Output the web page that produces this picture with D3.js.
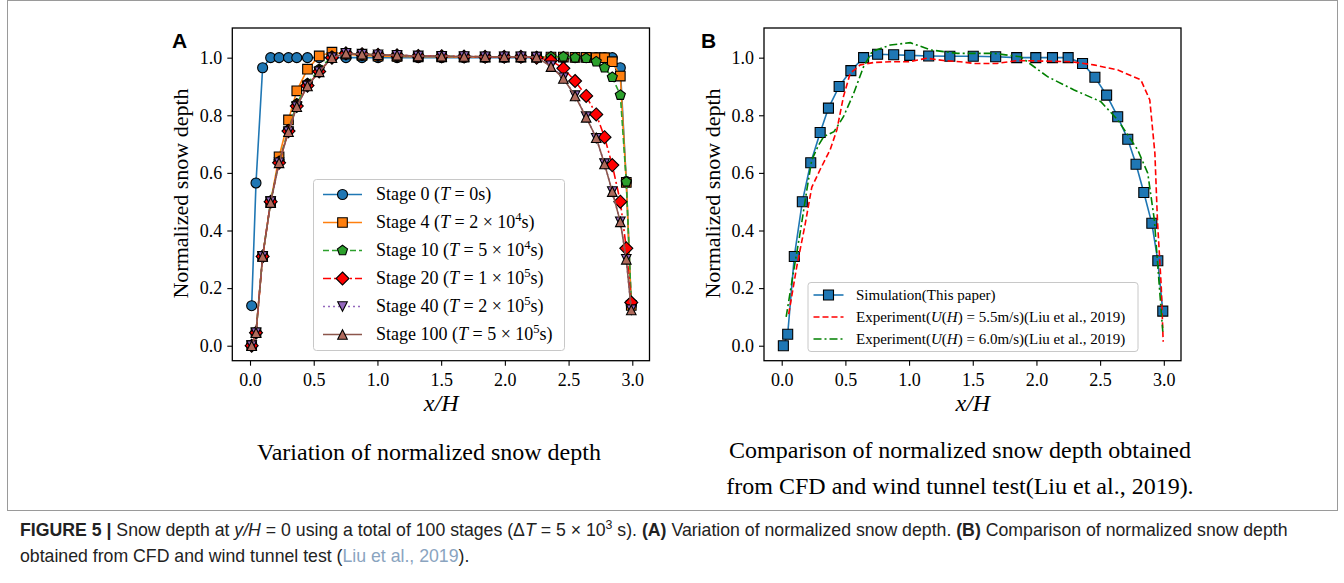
<!DOCTYPE html>
<html><head><meta charset="utf-8"><title>Figure 5 - Normalized snow depth</title>
<style>
    body {
        margin: 0;
        background-color: #ffffff;
    }
    svg text {
        font-family: 'Liberation Serif', 'Times New Roman', serif;
    }
    .caption text {
        font-family: 'Liberation Sans Narrow', 'Liberation Sans', Arial, sans-serif;
    }
</style>
<script src="https://cdnjs.cloudflare.com/ajax/libs/d3/7.8.5/d3.min.js"></script>
</head>
<body>
<div id="figure"></div>

<script>
// x/H positions of the sampled points (same grid in both panels)
const xGrid = [0.013, 0.047, 0.099, 0.162, 0.228, 0.302, 0.367, 0.451, 0.543, 0.643,
    0.753, 0.879, 1.005, 1.154, 1.320, 1.504, 1.680, 1.845, 1.995, 2.126,
    2.249, 2.362, 2.459, 2.551, 2.638, 2.717, 2.782, 2.843, 2.906, 2.953, 2.992];

// Panel A series
const stage0 = [0.139, 0.565, 0.965, 1.0, 1.0, 1.0, 1.0, 1.0, 1.0, 1.0,
    1.0, 1.0, 1.0, 1.0, 1.0, 1.0, 1.0, 1.0, 1.0, 1.0,
    1.0, 1.0, 1.0, 1.0, 1.0, 1.0, 1.0, 1.0, 0.965, 0.57, 0.14];
const stage4 = [0.0, 0.045, 0.31, 0.50, 0.656, 0.784, 0.885, 0.96, 1.006, 1.019,
    1.012, 1.008, 1.005, 1.004, 1.003, 1.003, 1.002, 1.002, 1.002, 1.002,
    1.002, 1.002, 1.002, 1.001, 1.001, 1.0, 1.0, 0.986, 0.936, 0.567, 0.14];
const stage10 = [0.0, 0.045, 0.31, 0.50, 0.64, 0.75, 0.84, 0.91, 0.96, 1.005,
    1.015, 1.012, 1.01, 1.008, 1.006, 1.005, 1.004, 1.003, 1.003, 1.003,
    1.003, 1.003, 1.003, 1.0, 0.998, 0.986, 0.965, 0.932, 0.870, 0.569, 0.15];
const stage20 = [0.0, 0.045, 0.31, 0.50, 0.635, 0.745, 0.832, 0.903, 0.952, 1.0,
    1.015, 1.012, 1.01, 1.008, 1.006, 1.005, 1.004, 1.003, 1.003, 1.003,
    1.0, 0.99, 0.963, 0.919, 0.867, 0.803, 0.724, 0.627, 0.50, 0.338, 0.15];
const stage40 = [0.0, 0.045, 0.31, 0.50, 0.635, 0.743, 0.83, 0.902, 0.951, 1.0,
    1.015, 1.012, 1.01, 1.008, 1.006, 1.005, 1.004, 1.003, 1.003, 1.003,
    1.002, 0.972, 0.93, 0.868, 0.795, 0.72, 0.632, 0.535, 0.43, 0.30, 0.125];
const stage100 = [0.0, 0.045, 0.31, 0.497, 0.635, 0.743, 0.83, 0.902, 0.951, 1.0,
    1.015, 1.012, 1.01, 1.008, 1.006, 1.005, 1.004, 1.003, 1.003, 1.003,
    1.002, 0.969, 0.928, 0.867, 0.793, 0.722, 0.631, 0.535, 0.43, 0.30, 0.124];

// Panel B series
const simulation = [0.0, 0.04, 0.31, 0.50, 0.635, 0.74, 0.825, 0.90, 0.955, 1.0,
    1.012, 1.01, 1.008, 1.006, 1.005, 1.005, 1.003, 1.0, 1.0, 1.0,
    1.0, 0.98, 0.932, 0.87, 0.795, 0.717, 0.63, 0.532, 0.425, 0.295, 0.12];
const exp55X = [0.055, 0.118, 0.183, 0.236, 0.30, 0.38, 0.433, 0.485, 0.538, 0.617,
    0.72, 0.85, 1.0, 1.14, 1.27, 1.40, 1.51, 1.69, 1.85, 2.27,
    2.45, 2.64, 2.82, 2.89, 2.93, 2.95, 2.98, 2.995];
const exp55Y = [0.11, 0.274, 0.419, 0.55, 0.61, 0.68, 0.749, 0.865, 0.946, 0.975,
    0.983, 0.986, 0.986, 0.998, 0.99, 0.986, 0.98, 0.98, 0.99, 0.986,
    0.975, 0.957, 0.923, 0.853, 0.668, 0.436, 0.205, 0.014];
const exp60X = [0.035, 0.09, 0.144, 0.197, 0.236, 0.29, 0.33, 0.41, 0.485, 0.565,
    0.643, 0.71, 0.853, 1.01, 1.168, 1.378, 1.666, 1.876, 2.087, 2.296,
    2.506, 2.638, 2.795, 2.874, 2.926, 2.965, 2.992];
const exp60Y = [0.10, 0.25, 0.39, 0.54, 0.645, 0.697, 0.726, 0.743, 0.795, 0.876,
    0.969, 1.021, 1.044, 1.052, 1.027, 1.015, 1.015, 1.003, 0.934, 0.888,
    0.847, 0.784, 0.68, 0.599, 0.436, 0.205, 0.049];

// ticks
const xTicks = [0.0, 0.5, 1.0, 1.5, 2.0, 2.5, 3.0];
const yTicks = [0.0, 0.2, 0.4, 0.6, 0.8, 1.0];

const W = 1344, H = 583;
const svg = d3.select("#figure").append("svg")
    .attr("width", W).attr("height", H)
    .attr("viewBox", `0 0 ${W} ${H}`);

// outer frame of the figure
svg.append("rect")
    .attr("x", 7.5).attr("y", 0.5)
    .attr("width", 1330).attr("height", 510)
    .attr("fill", "none").attr("stroke", "#9a9a9a").attr("stroke-width", 1);

// marker shapes (r ~ half width in px)
function markerPath(kind, r) {
    switch (kind) {
        case "circle":
            return d3.symbol(d3.symbolCircle, Math.PI * r * r)();
        case "square":
            return `M${-r},${-r}h${2 * r}v${2 * r}h${-2 * r}Z`;
        case "diamond":
            return `M0,${-r}L${r},0L0,${r}L${-r},0Z`;
        case "pentagon": {
            const pts = d3.range(5).map(k => {
                const a = -Math.PI / 2 + k * 2 * Math.PI / 5;
                return [r * Math.cos(a), r * Math.sin(a)];
            });
            return "M" + pts.join("L") + "Z";
        }
        case "triUp":
            return `M0,${-r}L${r},${r}L${-r},${r}Z`;
        case "triDown":
            return `M0,${r}L${r},${-r}L${-r},${-r}Z`;
    }
}

// rich text: segments with italic / bold / superscript
function richText(sel, parts, fs) {
    const shift = fs * 0.42;
    let raised = false;
    parts.forEach(p => {
        const t = sel.append("tspan").text(p.t);
        if (p.i) t.attr("font-style", "italic");
        if (p.b) t.attr("font-weight", "bold");
        if (p.fill) t.attr("fill", p.fill);
        if (p.sup) {
            t.attr("dy", -shift).attr("font-size", fs * 0.7);
            raised = true;
        } else if (raised) {
            t.attr("dy", shift);
            raised = false;
        }
    });
}

function makePanel(opt) {
    const x = d3.scaleLinear().domain([-0.139, 3.135]).range([opt.left, opt.right]);
    const y = d3.scaleLinear().domain([-0.052, 1.103]).range([360.7, 28]);
    const g = svg.append("g");

    const xAxis = g.append("g")
        .attr("transform", `translate(0,${y.range()[0]})`)
        .call(d3.axisBottom(x).tickValues(xTicks).tickFormat(d3.format(".1f")).tickSizeOuter(0).tickSize(5).tickPadding(4));
    const yAxis = g.append("g")
        .attr("transform", `translate(${x.range()[0]},0)`)
        .call(d3.axisLeft(y).tickValues(yTicks).tickFormat(d3.format(".1f")).tickSizeOuter(0).tickSize(5).tickPadding(5));
    [xAxis, yAxis].forEach(a => {
        a.select(".domain").remove();
        a.selectAll("line").attr("stroke", "#000").attr("stroke-width", 1.1);
        a.selectAll("text").attr("font-size", 18).attr("fill", "#000")
            .style("font-family", "'Liberation Serif', serif");
    });
    xAxis.selectAll("text").attr("dy", "0.9em");

    // frame
    g.append("rect")
        .attr("x", x.range()[0]).attr("y", y.range()[1])
        .attr("width", x.range()[1] - x.range()[0])
        .attr("height", y.range()[0] - y.range()[1])
        .attr("fill", "none").attr("stroke", "#000").attr("stroke-width", 1.3);

    // series
    opt.series.forEach(s => {
        const pts = s.xs.map((xv, i) => [xv, s.ys[i]]);
        g.append("path")
            .datum(pts)
            .attr("fill", "none")
            .attr("stroke", s.color)
            .attr("stroke-width", 1.6)
            .attr("stroke-dasharray", s.dash || null)
            .attr("d", d3.line().x(d => x(d[0])).y(d => y(d[1])));
        if (s.marker) {
            g.append("g").selectAll("path")
                .data(pts).join("path")
                .attr("transform", d => `translate(${x(d[0])},${y(d[1])})`)
                .attr("d", markerPath(s.marker, s.r))
                .attr("fill", s.fill)
                .attr("stroke", "#000")
                .attr("stroke-width", 1.1);
        }
    });

    // legend
    const L = opt.legend;
    g.append("rect")
        .attr("x", L.x).attr("y", L.y).attr("width", L.w).attr("height", L.h)
        .attr("rx", 3).attr("fill", "#fff").attr("fill-opacity", 0.85)
        .attr("stroke", "#c8c8c8").attr("stroke-width", 1);
    opt.series.forEach((s, i) => {
        const ly = L.y0 + i * L.dy;
        g.append("line")
            .attr("x1", L.lx1).attr("x2", L.lx2).attr("y1", ly).attr("y2", ly)
            .attr("stroke", s.color).attr("stroke-width", 1.6)
            .attr("stroke-dasharray", s.dash || null);
        if (s.marker) {
            g.append("path")
                .attr("transform", `translate(${(L.lx1 + L.lx2) / 2},${ly})`)
                .attr("d", markerPath(s.marker, s.r))
                .attr("fill", s.fill).attr("stroke", "#000").attr("stroke-width", 1.1);
        }
        const t = g.append("text")
            .attr("x", L.tx).attr("y", ly + L.fs * 0.33)
            .attr("font-size", L.fs).attr("fill", "#000");
        richText(t, s.label, L.fs);
    });

    // axis labels
    g.append("text")
        .attr("transform", `translate(${opt.ylabX},193.5) rotate(-90)`)
        .attr("text-anchor", "middle").attr("font-size", 22)
        .text("Normalized snow depth");
    g.append("text")
        .attr("x", (x(0) + x(3)) / 2).attr("y", 411)
        .attr("text-anchor", "middle").attr("font-size", 24).attr("font-style", "italic")
        .text("x/H");

    // panel letter
    g.append("text")
        .attr("x", opt.letterX).attr("y", 48)
        .attr("font-size", 21).attr("font-weight", "bold")
        .style("font-family", "'Liberation Sans', Arial, sans-serif")
        .text(opt.letter);

    // sub caption
    opt.sub.forEach((line, i) => {
        g.append("text")
            .attr("x", opt.subX).attr("y", opt.subY + i * 36)
            .attr("text-anchor", "middle").attr("font-size", 24)
            .text(line);
    });
}

const T = (a, b) => [{t: a}, {t: "T", i: true}, {t: b}];

makePanel({
    left: 232.3, right: 649.5, letter: "A", letterX: 172, ylabX: 188,
    subX: 429, subY: 460, sub: ["Variation of normalized snow depth"],
    legend: {x: 313.5, y: 179.5, w: 251, h: 171, y0: 194.5, dy: 28,
        lx1: 323, lx2: 362, tx: 376, fs: 18},
    series: [
        {xs: xGrid, ys: stage0, color: "#1f77b4", fill: "#1f77b4", marker: "circle", r: 5,
            label: [...T("Stage 0 (", " = 0s)")]},
        {xs: xGrid, ys: stage4, color: "#ff7f0e", fill: "#ff7f0e", marker: "square", r: 4.8,
            label: [...T("Stage 4 (", " = 2 × 10"), {t: "4", sup: true}, {t: "s)"}]},
        {xs: xGrid, ys: stage10, color: "#2ca02c", fill: "#2ca02c", marker: "pentagon", r: 5.3, dash: "6,3",
            label: [...T("Stage 10 (", " = 5 × 10"), {t: "4", sup: true}, {t: "s)"}]},
        {xs: xGrid, ys: stage20, color: "#ff0000", fill: "#ff0000", marker: "diamond", r: 6.5, dash: "8,3,2,3",
            label: [...T("Stage 20 (", " = 1 × 10"), {t: "5", sup: true}, {t: "s)"}]},
        {xs: xGrid, ys: stage40, color: "#9467bd", fill: "#9467bd", marker: "triDown", r: 4.8, dash: "2,3",
            label: [...T("Stage 40 (", " = 2 × 10"), {t: "5", sup: true}, {t: "s)"}]},
        {xs: xGrid, ys: stage100, color: "#8c564b", fill: "#b06a5c", marker: "triUp", r: 4.8,
            label: [...T("Stage 100 (", " = 5 × 10"), {t: "5", sup: true}, {t: "s)"}]}
    ]
});

makePanel({
    left: 764, right: 1181, letter: "B", letterX: 701, ylabX: 719.5,
    subX: 960, subY: 458, sub: ["Comparison of normalized snow depth obtained",
        "from CFD and wind tunnel test(Liu et al., 2019)."],
    legend: {x: 808, y: 282.5, w: 330, h: 69, y0: 295, dy: 22,
        lx1: 813.5, lx2: 843.5, tx: 856, fs: 15},
    series: [
        {xs: xGrid, ys: simulation, color: "#1f77b4", fill: "#1f77b4", marker: "square", r: 5,
            label: [{t: "Simulation(This paper)"}]},
        {xs: exp55X, ys: exp55Y, color: "#ff0000", dash: "6,3",
            label: [{t: "Experiment("}, {t: "U", i: true}, {t: "("}, {t: "H", i: true},
                {t: ") = 5.5m/s)(Liu et al., 2019)"}]},
        {xs: exp60X, ys: exp60Y, color: "#008000", dash: "8,3,2,3",
            label: [{t: "Experiment("}, {t: "U", i: true}, {t: "("}, {t: "H", i: true},
                {t: ") = 6.0m/s)(Liu et al., 2019)"}]}
    ]
});

// figure caption
const capFs = 17.7;
const cap = svg.append("g").attr("class", "caption");
const cap1 = cap.append("text").attr("x", 20).attr("y", 536).attr("font-size", capFs).attr("fill", "#222");
richText(cap1, [
    {t: "FIGURE 5 |", b: true},
    {t: " Snow depth at "}, {t: "y/H", i: true},
    {t: " = 0 using a total of 100 stages (Δ"}, {t: "T", i: true}, {t: " = 5 × 10"},
    {t: "3", sup: true}, {t: " s). "},
    {t: "(A)", b: true}, {t: " Variation of normalized snow depth. "},
    {t: "(B)", b: true}, {t: " Comparison of normalized snow depth"}
], capFs);
const cap2 = cap.append("text").attr("x", 20).attr("y", 562).attr("font-size", capFs).attr("fill", "#222");
richText(cap2, [
    {t: "obtained from CFD and wind tunnel test ("},
    {t: "Liu et al., 2019", fill: "#8aa4bf"},
    {t: ")."}
], capFs);
</script>
</body>
</html>
